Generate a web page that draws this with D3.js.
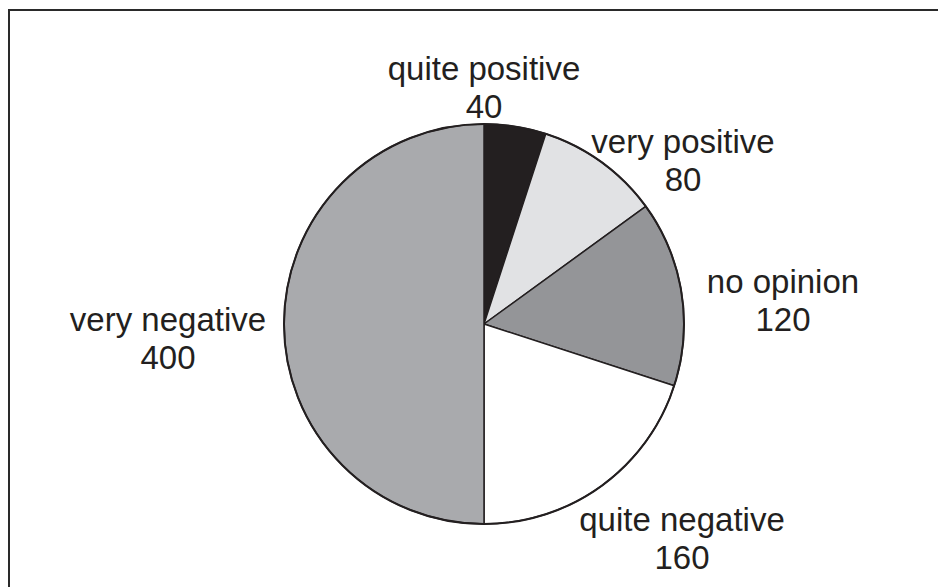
<!DOCTYPE html>
<html><head><meta charset="utf-8">
<script src="https://cdn.jsdelivr.net/npm/d3@7"></script>
<style>html,body{margin:0;padding:0;background:#fff;}</style>
</head><body>
<svg id="chart" width="938" height="587"></svg>
<script>
const categories = ["quite positive", "very positive", "no opinion", "quite negative", "very negative"];
const values = [40, 80, 120, 160, 400];
const colors = ["#231f20", "#e1e2e4", "#949598", "#ffffff", "#a9aaad"];

const svg = d3.select("#chart");
svg.append("rect").attr("x", 9).attr("y", 10).attr("width", 960).attr("height", 600)
  .attr("fill", "none").attr("stroke", "#2a2a2a").attr("stroke-width", 2);

const cx = 484, cy = 324, r = 200;
const g = svg.append("g").attr("transform", `translate(${cx},${cy})`);
const pie = d3.pie().sort(null).value(d => d.v);
const data = pie(categories.map((c, i) => ({c, v: values[i], col: colors[i]})));
const arc = d3.arc().innerRadius(0).outerRadius(r);
g.selectAll("path.slice").data(data).enter().append("path")
  .attr("d", arc).attr("fill", d => d.data.col)
  .attr("stroke", "#231f20").attr("stroke-width", 1.5).attr("stroke-linejoin", "round");
g.append("circle").attr("r", r).attr("fill", "none").attr("stroke", "#231f20").attr("stroke-width", 2);

// label offsets relative to pie centre (layout only)
const labelPos = [[0, -226], [199, -153], [299, -13], [198, 225], [-316, 25]];
const lab = g.selectAll("text.lab").data(data).enter().append("text")
  .attr("text-anchor", "middle")
  .attr("font-family", "'Liberation Sans', Arial, sans-serif")
  .attr("font-size", 33).attr("fill", "#231f20")
  .attr("transform", (d, i) => `translate(${labelPos[i][0]},${labelPos[i][1]})`);
lab.append("tspan").attr("x", 0).attr("y", -18).text(d => d.data.c);
lab.append("tspan").attr("x", 0).attr("y", 20).text(d => d.data.v);
</script>
</body></html>
